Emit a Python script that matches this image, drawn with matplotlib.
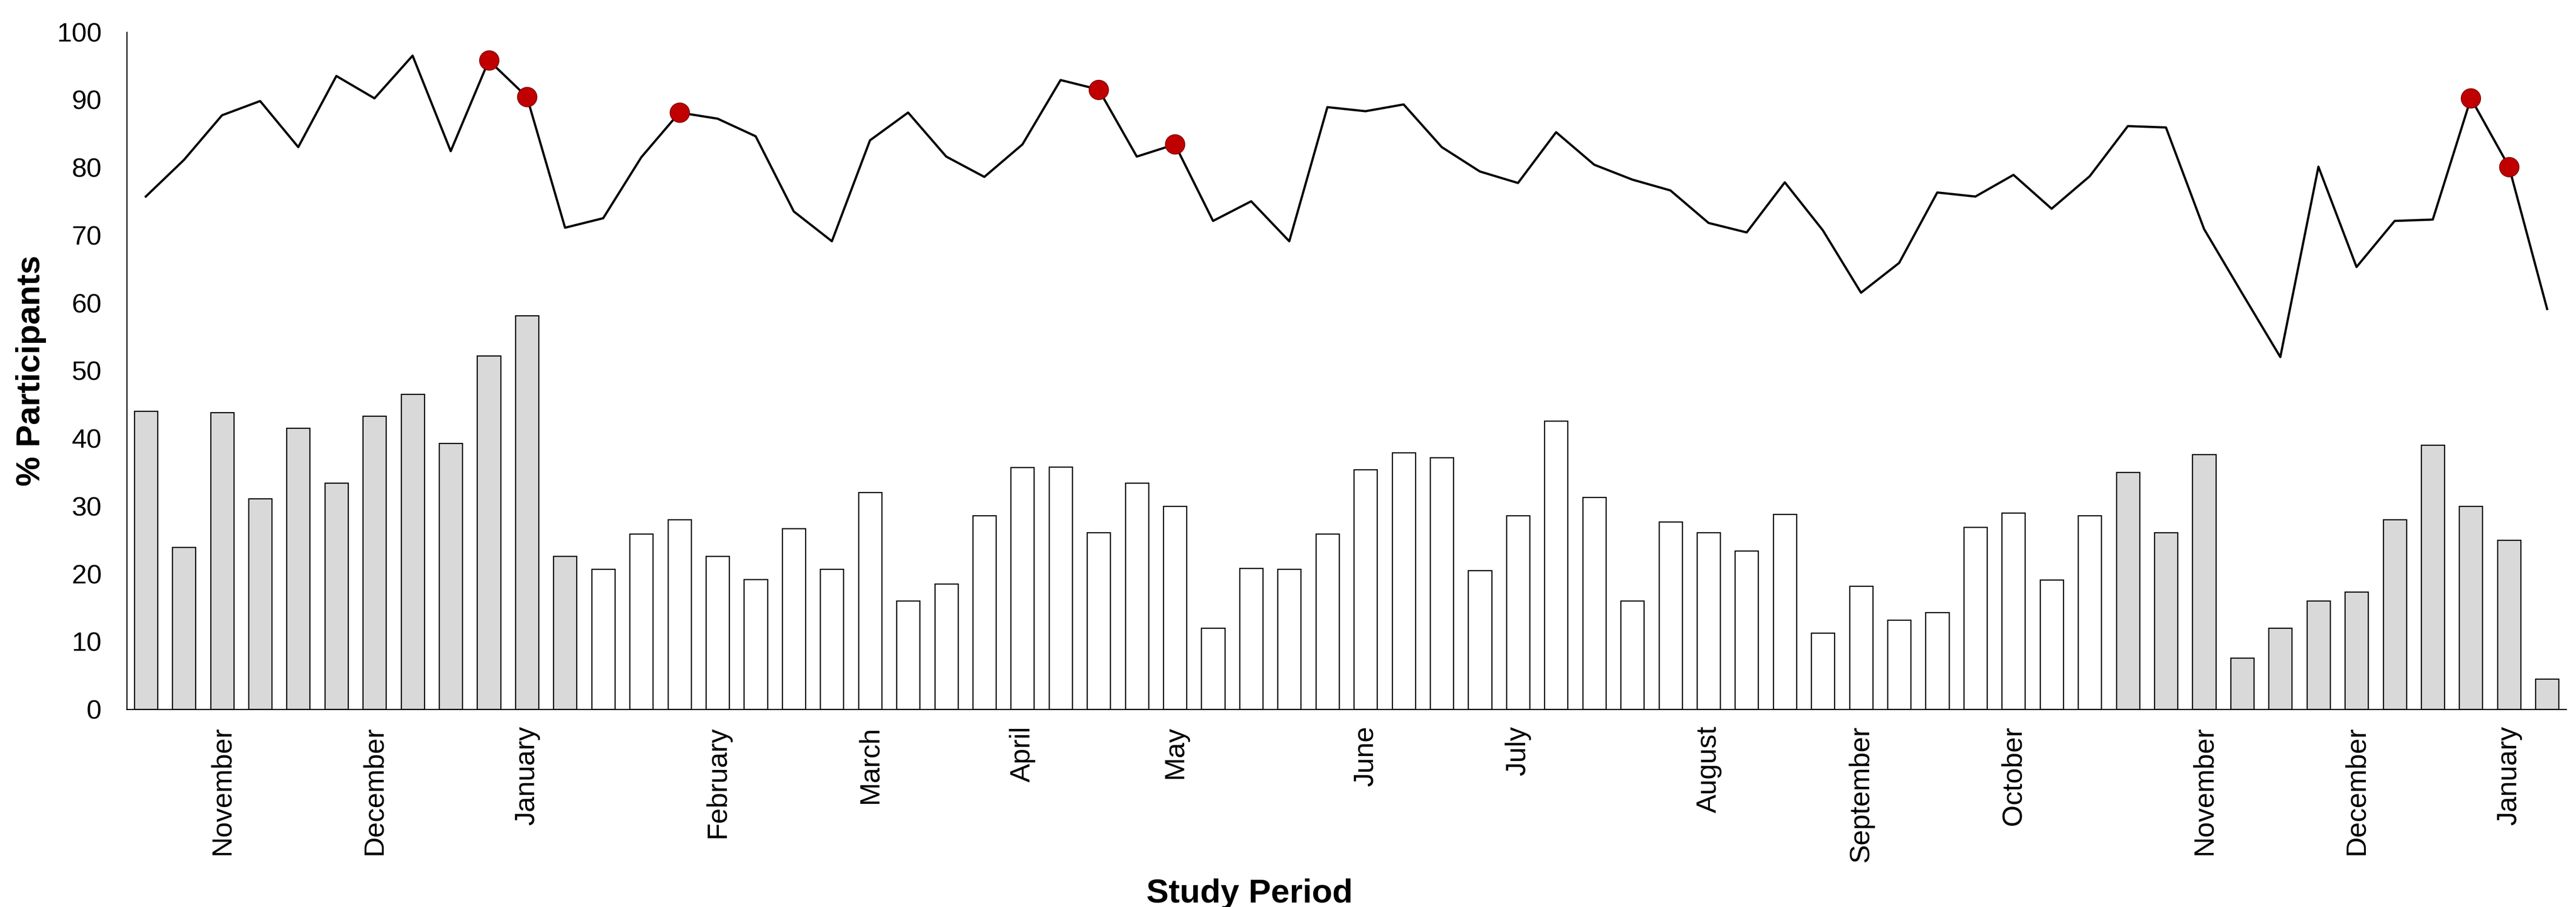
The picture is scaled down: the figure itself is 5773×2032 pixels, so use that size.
import matplotlib.pyplot as plt
import numpy as np

plt.rcParams['font.family'] = ['Liberation Sans', 'DejaVu Sans']


## DATA (one value per week)
line_vals = [75.7, 81.1, 87.7, 89.8, 83.0, 93.5, 90.2, 96.5, 82.4, 95.8, 90.4, 71.1, 72.5,
             81.5, 88.1, 87.2, 84.6, 73.5, 69.1, 84.0, 88.1, 81.6, 78.6, 83.4, 92.9, 91.5,
             81.6, 83.4, 72.1, 75.0, 69.1, 88.9, 88.3, 89.3, 83.0, 79.4, 77.7, 85.2, 80.4,
             78.2, 76.6, 71.8, 70.4, 77.8, 70.7, 61.5, 65.9, 76.3, 75.7, 78.9, 73.9, 78.7,
             86.1, 85.9, 70.9, 61.4, 52.0, 80.1, 65.3, 72.1, 72.3, 90.2, 80.1, 59.1]

bar_vals = [44.0, 23.9, 43.8, 31.1, 41.5, 33.4, 43.3, 46.5, 39.3, 52.2, 58.1, 22.6, 20.7,
            25.9, 28.0, 22.6, 19.2, 26.7, 20.7, 32.0, 16.0, 18.5, 28.6, 35.7, 35.8, 26.1,
            33.4, 30.0, 12.0, 20.8, 20.7, 25.9, 35.4, 37.9, 37.2, 20.5, 28.6, 42.6, 31.3,
            16.0, 27.7, 26.1, 23.4, 28.8, 11.3, 18.2, 13.2, 14.3, 26.9, 29.0, 19.1, 28.6,
            35.0, 26.1, 37.6, 7.6, 12.0, 16.0, 17.3, 28.0, 39.0, 30.0, 25.0, 4.5]

# weeks with grey bars
shaded_weeks = list(range(0, 12)) + list(range(52, 64))
# weeks flagged with a red dot on the line
flagged_weeks = [9, 10, 14, 25, 27, 61, 62]

month_pos = [2, 6, 10, 15, 19, 23, 27, 32, 36, 41, 45, 49, 54, 58, 62]
month_labels = ['November', 'December', 'January', 'February', 'March', 'April', 'May',
                'June', 'July', 'August', 'September', 'October', 'November', 'December',
                'January']


## PLOT
W, H, dpi = 5773, 2032, 300
fig = plt.figure(figsize=(W / dpi, H / dpi), dpi=dpi)
ax = fig.add_axes([284 / W, 1 - 1589 / H, (5751 - 284) / W, (1589 - 71.6) / H])

x = np.arange(len(bar_vals))
colors = ['#D9D9D9' if i in shaded_weeks else 'white' for i in x]
ax.bar(x, bar_vals, width=0.61, color=colors, edgecolor='black', linewidth=0.6, zorder=2)

ax.plot(x, line_vals, color='black', linewidth=1.2, zorder=3)
fx = np.array(flagged_weeks)
ax.plot(fx, np.array(line_vals)[fx], 'o', markersize=10.5, markerfacecolor='#C00000',
        markeredgecolor='#7A0000', markeredgewidth=0.4, zorder=4)

ax.set_xlim(-0.5, len(bar_vals) - 0.5)
ax.set_ylim(0, 100)
ax.set_yticks(np.arange(0, 101, 10))
ax.set_xticks(month_pos)
ax.set_xticklabels(month_labels, rotation=90)

ax.tick_params(axis='y', length=0, pad=13.5, labelsize=14.5)
ax.tick_params(axis='x', length=0, pad=9, labelsize=15)

for side in ['top', 'right']:
    ax.spines[side].set_visible(False)
for side in ['left', 'bottom']:
    ax.spines[side].set_linewidth(0.6)
    ax.spines[side].set_color('black')

fig.text(70 / W, 1 - (71.6 + 1589) / 2 / H, '% Participants', rotation=90,
         ha='center', va='center', fontsize=18, fontweight='bold')
fig.text(2800 / W, 10 / H, 'Study Period', ha='center', va='baseline',
         fontsize=18, fontweight='bold')

fig.savefig('out.png', dpi=dpi)
